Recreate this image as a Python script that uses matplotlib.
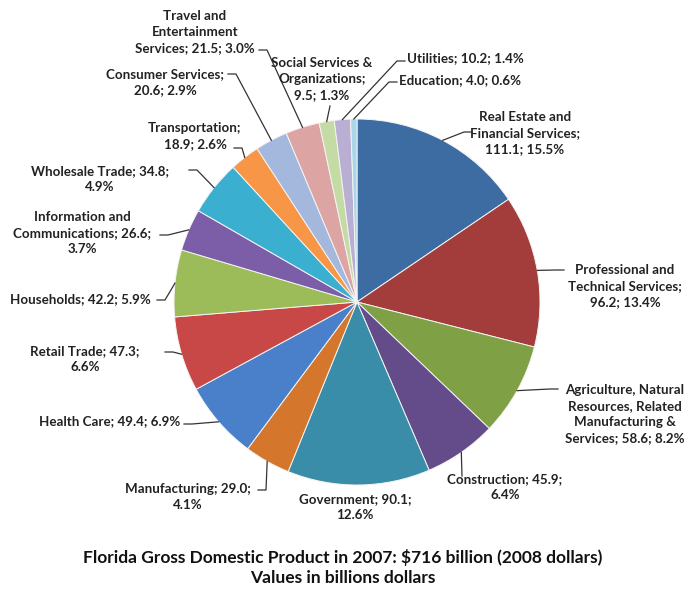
"""
Florida GDP 2007 by sector - pie chart with leader-line labels.
"""
import matplotlib.pyplot as plt
import numpy as np

# sectors in clockwise order starting at 12 o'clock
SECTORS = [
    "Real Estate and Financial Services", "Professional and Technical Services",
    "Agriculture, Natural Resources, Related Manufacturing & Services",
    "Construction", "Government", "Manufacturing", "Health Care", "Retail Trade",
    "Households", "Information and Communications", "Wholesale Trade",
    "Transportation", "Consumer Services", "Travel and Entertainment Services",
    "Social Services & Organizations", "Utilities", "Education",
]
VALUES = [111.1, 96.2, 58.6, 45.9, 90.1, 29.0, 49.4, 47.3, 42.2, 26.6, 34.8,
          18.9, 20.6, 21.5, 9.5, 10.2, 4.0]
COLORS = ["#3D6CA3", "#A23D3B", "#7FA045", "#644B8A", "#3A8DA8", "#D4762C",
          "#4A80C9", "#C84848", "#9BBC59", "#7B5EA7", "#3AAFCF", "#F79646",
          "#A4B8DE", "#DDA4A4", "#C5DBA6", "#B9AFD3", "#A9D6E8"]

# label text layout (line breaks) per sector
LABEL_FMT = [
    "Real Estate and\nFinancial Services;\n{v}; {p}",
    "Professional and\nTechnical Services;\n{v}; {p}",
    "Agriculture, Natural\nResources, Related\nManufacturing &\nServices; {v}; {p}",
    "Construction; {v};\n{p}",
    "Government; {v};\n{p}",
    "Manufacturing; {v};\n{p}",
    "Health Care; {v}; {p}",
    "Retail Trade; {v};\n{p}",
    "Households; {v}; {p}",
    "Information and\nCommunications; {v};\n{p}",
    "Wholesale Trade; {v};\n{p}",
    "Transportation;\n{v}; {p}",
    "Consumer Services;\n{v}; {p}",
    "Travel and\nEntertainment\nServices; {v}; {p}",
    "Social Services &\nOrganizations;\n{v}; {p}",
    "Utilities; {v}; {p}",
    "Education; {v}; {p}",
]
# label centre (px) and where the leader meets the text (px), image coords
LABEL_XY = [(525, 133), (625, 286), (625, 414), (505, 487), (355, 507),
            (188, 497), (110, 421), (85, 359), (80, 299), (82, 233),
            (100, 179), (195, 136), (165, 82), (195, 32), (322, 79),
            (465, 58), (460, 80)]
ELBOW_XY = [(472, 132), (564, 270), (558, 389), (462, 476), None,
            (258, 490), (184, 424), (165, 352), (157, 300), (160, 235),
            (189, 170), (234, 148), (228, 74), (259, 50), (330, 106),
            (405, 61), (397, 82)]
# short horizontal hook at the text end of each leader (px)
HOOK = [8, 8, 8, 0, 0, 8, 8, 8, 8, 8, 8, 8, 8, 8, 0, 8, 8]

W, H = 694, 590
CX, CY, R = 357, 302, 183
FONT = "Lato"


def px(x, y):
    return x, H - y


fig = plt.figure(figsize=(W / 100, H / 100), dpi=100)
ax = fig.add_axes([0, 0, 1, 1])

ax.pie(VALUES, colors=COLORS, startangle=90, counterclock=False,
       center=px(CX, CY), radius=R,
       wedgeprops=dict(edgecolor="#f4f4f4", linewidth=0.7))
ax.set_xlim(0, W)
ax.set_ylim(0, H)
ax.set_aspect("equal")
ax.axis("off")

total = sum(VALUES)
cum = np.cumsum([0] + VALUES)
for i, v in enumerate(VALUES):
    pct = 100 * v / total
    txt = LABEL_FMT[i].format(v=f"{v:.1f}", p=f"{pct:.1f}%")
    lx, ly = LABEL_XY[i]
    ax.text(*px(lx, ly), txt, ha="center", va="center", fontsize=9.6,
            fontweight="bold", family=FONT, color="#222222", linespacing=1.4)
    if ELBOW_XY[i] is None:
        continue
    mid = (cum[i] + cum[i + 1]) / 2 / total
    ang = np.deg2rad(90 - 360 * mid)
    ex, ey = px(CX, CY)
    ex += R * np.cos(ang)
    ey += R * np.sin(ang)
    tx, ty = px(*ELBOW_XY[i])
    bx = tx - np.sign(lx - ELBOW_XY[i][0]) * HOOK[i]
    ax.plot([ex, bx, tx], [ey, ty, ty], color="#333333", lw=0.9)

ax.text(*px(343, 558), "Florida Gross Domestic Product in 2007: \\$716 billion (2008 dollars)",
        ha="center", va="center", fontsize=12.5, fontweight="bold", family=FONT,
        color="#111111")
ax.text(*px(343, 578), "Values in billions dollars", ha="center", va="center",
        fontsize=12.5, fontweight="bold", family=FONT, color="#111111")

fig.savefig("out.png", dpi=100, facecolor="white")
